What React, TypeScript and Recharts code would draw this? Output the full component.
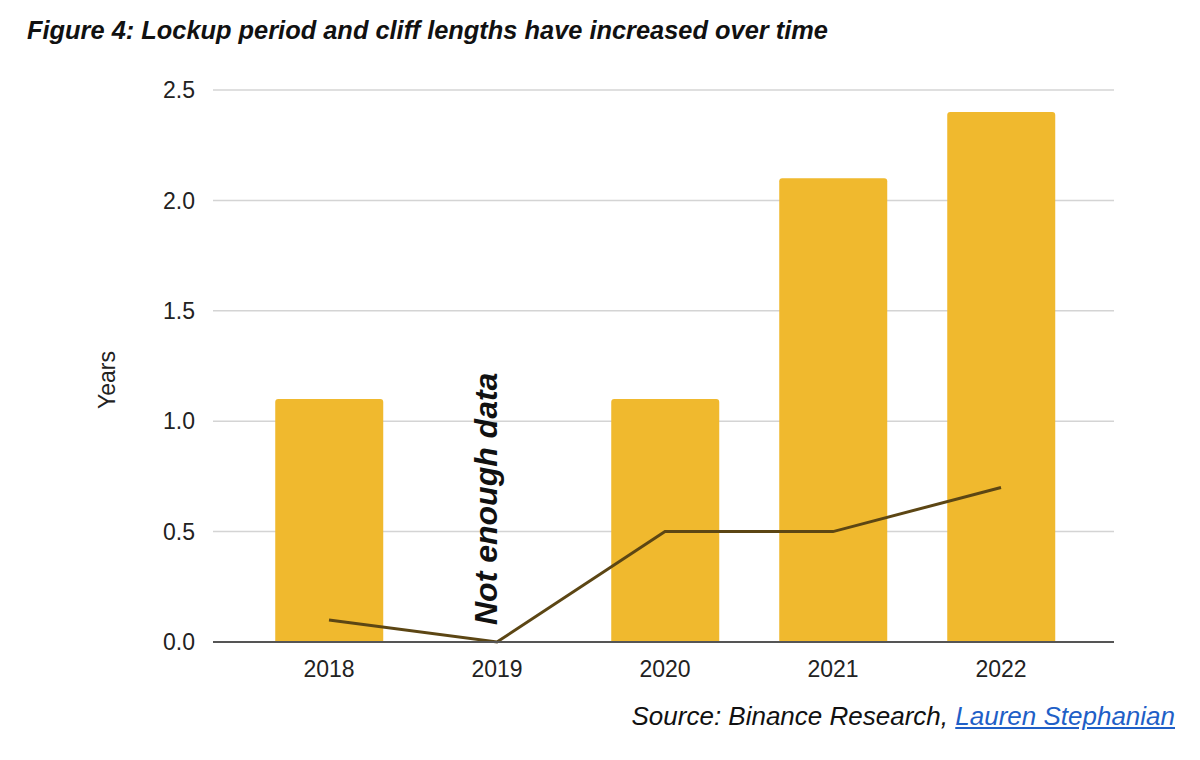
import React from 'react';
import { ComposedChart, Bar, Line, XAxis, YAxis, CartesianGrid, ReferenceDot } from 'recharts';

const years = ['2018', '2019', '2020', '2021', '2022'];
const lockupYears = [1.1, 0, 1.1, 2.1, 2.4];
const cliffYears = [0.1, 0, 0.5, 0.5, 0.7];
const yTicks = [0, 0.5, 1, 1.5, 2, 2.5];

const data = years.map((year, i) => ({
    year,
    lockup: year === '2019' ? null : lockupYears[i],
    cliff: cliffYears[i],
}));

const font = 'Liberation Sans, Arial, sans-serif';

const NoDataLabel = (props: any) => {
    const { viewBox } = props;
    const x = viewBox.x - 11;
    const y = viewBox.y - 17;
    return (
        <text
            x={x}
            y={y}
            transform={`rotate(-90 ${x} ${y})`}
            fontFamily={font}
            fontSize={32}
            fontWeight="bold"
            fontStyle="italic"
            fill="#111"
            textAnchor="start"
            dominantBaseline="central"
        >
            Not enough data
        </text>
    );
};

const YearsLabel = () => {
    const x = 107;
    const y = 380;
    return (
        <text
            x={x}
            y={y}
            transform={`rotate(-90 ${x} ${y})`}
            fontFamily={font}
            fontSize={23}
            fill="#222"
            textAnchor="middle"
            dominantBaseline="central"
        >
            Years
        </text>
    );
};

export default function App() {
    return (
        <div style={{ position: 'absolute', left: 0, top: 0, width: 1200, height: 760, background: '#fff' }}>
            <div
                style={{
                    position: 'absolute',
                    left: 27,
                    top: 16,
                    fontFamily: font,
                    fontWeight: 'bold',
                    fontStyle: 'italic',
                    fontSize: 25.4,
                    color: '#111',
                    whiteSpace: 'nowrap',
                }}
            >
                Figure 4: Lockup period and cliff lengths have increased over time
            </div>
            <ComposedChart
                width={1200}
                height={760}
                data={data}
                margin={{ top: 90, right: 86, bottom: 88, left: 0 }}
                barCategoryGap="18%"
            >
                <CartesianGrid vertical={false} stroke="#d4d4d4" strokeWidth={1.5} />
                <XAxis
                    dataKey="year"
                    height={30}
                    padding={{ left: 32, right: 29 }}
                    tickLine={false}
                    axisLine={{ stroke: '#555', strokeWidth: 2 }}
                    fontSize={23}
                    tick={{ fill: '#222', fontSize: 23, fontFamily: font }}
                    tickMargin={13}
                />
                <YAxis
                    width={213}
                    domain={[0, 2.5]}
                    ticks={yTicks}
                    tickFormatter={(v: number) => v.toFixed(1)}
                    axisLine={false}
                    tickLine={false}
                    tickMargin={12}
                    fontSize={23}
                    tick={{ fill: '#222', fontSize: 23, fontFamily: font }}
                    label={<YearsLabel />}
                />
                <Bar dataKey="lockup" fill="#f0b92e" radius={[3, 3, 0, 0]} isAnimationActive={false} />
                <Line
                    dataKey="cliff"
                    type="linear"
                    stroke="#5c4614"
                    strokeWidth={3}
                    dot={false}
                    activeDot={false}
                    isAnimationActive={false}
                />
                <ReferenceDot x="2019" y={0} r={0} stroke="none" fill="none" label={<NoDataLabel />} />
            </ComposedChart>
            <div
                style={{
                    position: 'absolute',
                    right: 25,
                    top: 701,
                    fontFamily: font,
                    fontStyle: 'italic',
                    fontSize: 26,
                    color: '#111',
                    whiteSpace: 'nowrap',
                }}
            >
                Source: Binance Research,{' '}
                <span style={{ color: '#1f5fc7', textDecoration: 'underline' }}>Lauren Stephanian</span>
            </div>
        </div>
    );
}
